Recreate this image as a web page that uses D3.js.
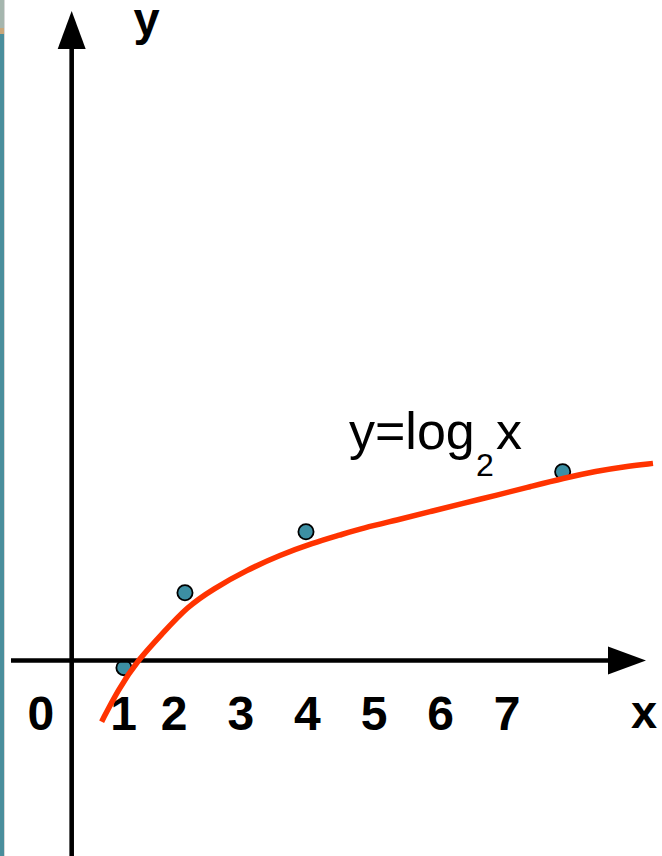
<!DOCTYPE html>
<html>
<head>
<meta charset="utf-8">
<script src="https://cdn.jsdelivr.net/npm/d3@7"></script>
<style>
  html, body { margin: 0; padding: 0; background: #fff; }
  svg { display: block; }
</style>
</head>
<body>
<div id="chart"></div>
<script>
// ---- data ----
const tickLabels = ["0", "1", "2", "3", "4", "5", "6", "7"];
const tickPositions = [0, 1.24, 2, 3, 4, 5, 6, 7];

// highlighted points (x, y)
const pointX = [1.246, 2.162, 3.979, 7.833];
const pointY = [-0.114, 1.078, 2.048, 3.002];

// hand-drawn curve y = log2 x as it appears in the picture
const curveX = [0.911, 1.156, 1.449, 1.832, 2.192, 2.583, 3.093, 3.589, 4.084, 4.489,
                4.835, 5.345, 5.841, 6.336, 6.847, 7.342, 7.838, 8.348, 8.739, 9.189];
const curveY = [-0.973, -0.469, 0.0, 0.437, 0.851, 1.137, 1.439, 1.677, 1.868, 1.995,
                2.107, 2.234, 2.366, 2.499, 2.631, 2.763, 2.897, 3.013, 3.081, 3.135];

const xDomain = [-0.45, 9.084];   // extent of the x axis line (to arrow tip)
const yDomain = [-3.11, 10.33];   // extent of the y axis line (to arrow tip)
const yAxisAtX = 0.461;           // where the vertical axis crosses
const xAxisAtY = 0;

const curveLabel = { main: "y=log", sub: "2", tail: "x", x: 4.625, y: 3.36 };

// ---- drawing ----
const W = 662, H = 856;
const svg = d3.select("#chart").append("svg").attr("width", W).attr("height", H);

const x = d3.scaleLinear().domain(xDomain).range([11, 646]);
const y = d3.scaleLinear().domain(yDomain).range([856, 11]);

// left decorative strip
svg.append("rect").attr("x", 0).attr("y", 0).attr("width", 4).attr("height", H).attr("fill", "#4A8E9C");
svg.append("rect").attr("x", 0).attr("y", 0).attr("width", 4).attr("height", 28).attr("fill", "#A5B6AE");
svg.append("rect").attr("x", 0).attr("y", 28).attr("width", 4).attr("height", 6).attr("fill", "#C9A77A");
svg.append("rect").attr("x", 4).attr("y", 0).attr("width", 1).attr("height", H).attr("fill", "#d8d8d8");

// points (drawn beneath axes and curve)
svg.selectAll("circle.pt").data(pointX).enter().append("circle")
  .attr("class", "pt")
  .attr("cx", d => x(d))
  .attr("cy", (d, i) => y(pointY[i]))
  .attr("r", 7.6)
  .attr("fill", "#3C8FA3")
  .attr("stroke", "#000")
  .attr("stroke-width", 1.8);

const axisW = 4.6, arrowLen = 38, arrowHalf = 14;

// x axis
const xa0 = x(xDomain[0]), xa1 = x(xDomain[1]), xy = y(xAxisAtY);
svg.append("line").attr("x1", xa0).attr("x2", xa1 - arrowLen + 2).attr("y1", xy).attr("y2", xy)
  .attr("stroke", "#000").attr("stroke-width", axisW);
svg.append("path")
  .attr("d", `M${xa1},${xy} L${xa1 - arrowLen},${xy - arrowHalf} L${xa1 - arrowLen},${xy + arrowHalf} Z`)
  .attr("fill", "#000");

// y axis
const yx = x(yAxisAtX), ya0 = y(yDomain[0]), ya1 = y(yDomain[1]);
svg.append("line").attr("x1", yx).attr("x2", yx).attr("y1", ya0).attr("y2", ya1 + arrowLen - 2)
  .attr("stroke", "#000").attr("stroke-width", axisW);
svg.append("path")
  .attr("d", `M${yx},${ya1} L${yx - arrowHalf},${ya1 + arrowLen} L${yx + arrowHalf},${ya1 + arrowLen} Z`)
  .attr("fill", "#000");

// tick labels
svg.selectAll("text.tick").data(tickLabels).enter().append("text")
  .attr("class", "tick")
  .attr("x", (d, i) => x(tickPositions[i]))
  .attr("y", xy + 70)
  .attr("text-anchor", "middle")
  .attr("font-family", "Liberation Sans, Arial, sans-serif")
  .attr("font-weight", "bold")
  .attr("font-size", 48)
  .attr("fill", "#000")
  .text(d => d);

// axis names
svg.append("text").attr("x", xa1 - 2).attr("y", xy + 68)
  .attr("text-anchor", "middle")
  .attr("font-family", "Liberation Sans, Arial, sans-serif").attr("font-weight", "bold")
  .attr("font-size", 47).attr("fill", "#000").text("x");
svg.append("text").attr("x", yx + 75).attr("y", ya1 + 24)
  .attr("text-anchor", "middle")
  .attr("font-family", "Liberation Sans, Arial, sans-serif").attr("font-weight", "bold")
  .attr("font-size", 47).attr("fill", "#000").text("y");

// curve
const line = d3.line()
  .x(d => x(d[0]))
  .y(d => y(d[1]))
  .curve(d3.curveBasis);
svg.append("path")
  .datum(curveX.map((v, i) => [v, curveY[i]]))
  .attr("d", line)
  .attr("fill", "none")
  .attr("stroke", "#FF3300")
  .attr("stroke-width", 5.5)
  .attr("stroke-linecap", "butt");

// curve label
const lbl = svg.append("text")
  .attr("font-family", "Liberation Sans, Arial, sans-serif")
  .attr("fill", "#000");
const lx = x(curveLabel.x), ly = y(curveLabel.y);
lbl.append("tspan").attr("x", lx).attr("y", ly).attr("font-size", 52).text(curveLabel.main);
lbl.append("tspan").attr("x", lx + 127).attr("y", ly + 27).attr("font-size", 32).text(curveLabel.sub);
lbl.append("tspan").attr("x", lx + 147).attr("y", ly).attr("font-size", 52).text(curveLabel.tail);
</script>
</body>
</html>
